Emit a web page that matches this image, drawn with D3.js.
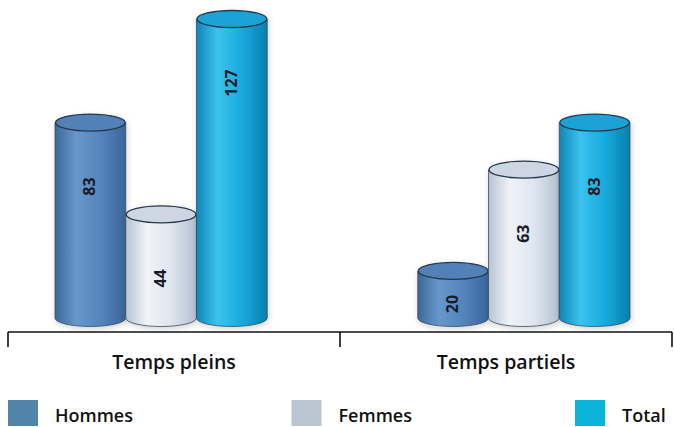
<!DOCTYPE html>
<html>
<head>
<meta charset="utf-8">
<script src="https://cdn.jsdelivr.net/npm/d3@7"></script>
<style>
  html, body { margin: 0; padding: 0; background: #fff; }
  svg { display: block; }
  text { font-family: "Open Sans", "DejaVu Sans", sans-serif; }
</style>
</head>
<body>
<div id="chart"></div>
<script>
// Effectifs par sexe, temps plein / temps partiel
const categories = ["Temps pleins", "Temps partiels"];
const seriesNames = ["Hommes", "Femmes", "Total"];
const hommes = [83, 20];
const femmes = [44, 63];
const total = [127, 83];

const width = 674, height = 427;
const svg = d3.select("#chart").append("svg")
  .attr("width", width).attr("height", height);

const defs = svg.append("defs");

// Cylinder shading: [edge dark, highlight, body, right edge], top cap, legend swatch
const palette = {
  Hommes: { stops: ["#3c6897", "#6797cb", "#5484bb", "#3a659a"], cap: "#5181b6", swatch: "#5283a8" },
  Femmes: { stops: ["#b7c3d3", "#f0f3f8", "#dfe5ee", "#b3c0d0"], cap: "#cdd6e2", swatch: "#b9c6d2" },
  Total:  { stops: ["#0f86b8", "#3cc3ee", "#17a9dc", "#0a7fb0"], cap: "#1ba3d6", swatch: "#0db4da" }
};

seriesNames.forEach(name => {
  const g = defs.append("linearGradient")
    .attr("id", "grad-" + name).attr("x1", "0%").attr("x2", "100%").attr("y1", "0%").attr("y2", "0%");
  const s = palette[name].stops;
  [[0, s[0]], [0.3, s[1]], [0.65, s[2]], [1, s[3]]].forEach(([o, c]) =>
    g.append("stop").attr("offset", o).attr("stop-color", c));
});

const shadow = defs.append("filter").attr("id", "soft").attr("x", "-20%").attr("y", "-20%")
  .attr("width", "140%").attr("height", "140%");
shadow.append("feGaussianBlur").attr("in", "SourceAlpha").attr("stdDeviation", 3).attr("result", "b");
shadow.append("feOffset").attr("dx", 1).attr("dy", 2).attr("result", "o");
shadow.append("feComponentTransfer").append("feFuncA").attr("type", "linear").attr("slope", 0.18);
const merge = shadow.append("feMerge");
merge.append("feMergeNode");
merge.append("feMergeNode").attr("in", "SourceGraphic");

// Scales
const axisY = 332;
const baseY = 318;
const y = d3.scaleLinear().domain([0, 127]).range([baseY, 19]);

const xCat = d3.scaleBand().domain(categories).range([8, 672]);
const xGroup = d3.scaleBand().domain(categories).range([55, 630]).paddingInner(0.415);
const xSeries = d3.scaleBand().domain(seriesNames).range([0, xGroup.bandwidth()]);

const values = { Hommes: hommes, Femmes: femmes, Total: total };
const rows = [];
categories.forEach((c, i) => seriesNames.forEach(s => rows.push({ cat: c, series: s, value: values[s][i] })));

const ry = 8.5;
const plot = svg.append("g");

rows.forEach(d => {
  const x0 = xGroup(d.cat) + xSeries(d.series);
  const w = xSeries.bandwidth();
  const rx = w / 2;
  const cx = x0 + rx;
  const top = y(d.value);
  const g = plot.append("g").attr("filter", "url(#soft)");

  g.append("path")
    .attr("d", `M${x0},${top} L${x0},${baseY} A${rx},${ry} 0 0 0 ${x0 + w},${baseY} L${x0 + w},${top} Z`)
    .attr("fill", `url(#grad-${d.series})`)
    .attr("stroke", "#3a4a5c").attr("stroke-width", 0.8);

  g.append("ellipse")
    .attr("cx", cx).attr("cy", top).attr("rx", rx - 0.5).attr("ry", ry)
    .attr("fill", palette[d.series].cap)
    .attr("stroke", "#26384d").attr("stroke-width", 1.3);

  const ly = Math.min(top + 64, baseY - 14);
  plot.append("text")
    .attr("transform", `translate(${cx + 5},${ly}) rotate(-90)`)
    .attr("text-anchor", "middle")
    .attr("font-family", "'Liberation Sans', Arial, sans-serif")
    .attr("font-weight", "bold").attr("font-size", 16)
    .attr("fill", "#141c28")
    .text(d.value);
});

// Category axis with separator ticks
const axisG = svg.append("g");
axisG.append("line").attr("x1", xCat.range()[0]).attr("x2", xCat.range()[1])
  .attr("y1", axisY).attr("y2", axisY).attr("stroke", "#111").attr("stroke-width", 1.6);
const tickXs = categories.map(c => xCat(c)).concat([xCat.range()[1]]);
axisG.selectAll("line.tick").data(tickXs).join("line").attr("class", "tick")
  .attr("x1", d => d).attr("x2", d => d)
  .attr("y1", axisY).attr("y2", axisY + 15)
  .attr("stroke", "#111").attr("stroke-width", 1.6);
axisG.selectAll("text").data(categories).join("text")
  .attr("x", d => xCat(d) + xCat.bandwidth() / 2)
  .attr("y", 369)
  .attr("text-anchor", "middle")
  .attr("font-size", 19.5).attr("font-weight", 600).attr("fill", "#111")
  .text(d => d);

// Legend
const legendX = d3.scalePoint().domain(seriesNames).range([8, 575]);
const leg = svg.append("g").selectAll("g").data(seriesNames).join("g")
  .attr("transform", d => `translate(${legendX(d)},400)`);
leg.append("rect").attr("width", 30).attr("height", 26).attr("fill", d => palette[d].swatch);
leg.append("text").attr("x", 47).attr("y", 22)
  .attr("font-size", 18).attr("font-weight", 600).attr("fill", "#111")
  .text(d => d);
</script>
</body>
</html>
